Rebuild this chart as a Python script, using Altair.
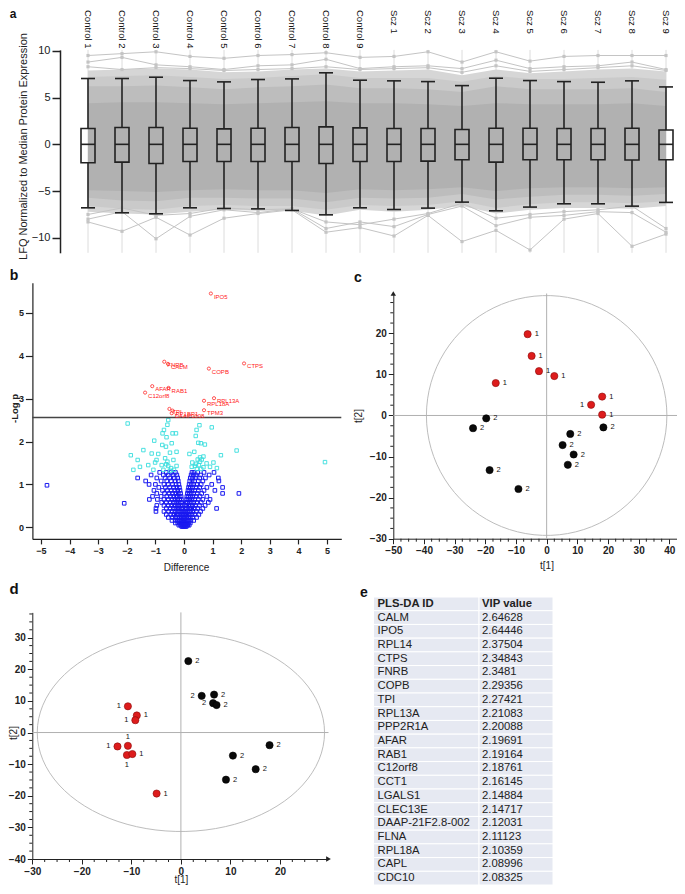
import altair as alt
import pandas as pd

FONT = "Liberation Sans"
OX, OY = 8, 8
W, H = 669, 878


def PX(v):
    return v - OX


def PY(v):
    return v - OY


INK = "#222222"

# ---------------- panel a data ----------------
samples = ["Control 1", "Control 2", "Control 3", "Control 4", "Control 5", "Control 6",
           "Control 7", "Control 8", "Control 9", "Scz 1", "Scz 2", "Scz 3", "Scz 4",
           "Scz 5", "Scz 6", "Scz 7", "Scz 8", "Scz 9"]
a_q1 = [-1.97, -1.9, -2.05, -1.83, -1.83, -1.83, -1.83, -2.05, -1.83, -1.83, -1.8, -1.65,
        -1.9, -1.65, -1.65, -1.65, -1.68, -1.65]
a_q3 = [1.69, 1.8, 1.8, 1.72, 1.65, 1.72, 1.8, 1.87, 1.76, 1.69, 1.69, 1.58, 1.72, 1.72,
        1.69, 1.69, 1.72, 1.54]
a_med = [0.0] * 18
a_lo = [-6.79, -7.32, -7.43, -6.79, -6.86, -6.9, -7.07, -7.54, -6.79, -6.97, -6.82, -6.18,
        -7.11, -6.71, -6.36, -6.36, -6.61, -6.21]
a_hi = [7.04, 7.04, 7.18, 6.82, 6.68, 6.93, 7.0, 7.65, 6.86, 6.79, 6.71, 6.28, 7.07, 6.82,
        6.71, 6.64, 6.79, 6.14]
# envelopes of the grey protein-profile cloud
cloud_outer_hi = [7.9, 8.0, 8.1, 8.0, 7.7, 7.8, 8.0, 8.1, 7.8, 7.9, 8.0, 7.4, 8.0, 7.6, 7.8, 8.0, 8.1, 7.8]
cloud_outer_lo = [-7.2, -7.4, -7.5, -7.2, -7.0, -7.1, -7.1, -7.6, -7.0, -7.2, -7.0, -6.6, -7.4, -7.0, -6.8, -6.8, -6.9, -6.6]
cloud_mid2_hi = [7.2, 7.3, 7.4, 7.2, 7.0, 7.1, 7.3, 7.5, 7.1, 7.1, 7.1, 6.7, 7.3, 7.0, 7.0, 7.1, 7.2, 6.9]
cloud_mid2_lo = [-6.6, -6.9, -7.0, -6.6, -6.5, -6.6, -6.6, -7.0, -6.5, -6.6, -6.5, -6.1, -6.8, -6.4, -6.2, -6.2, -6.3, -6.1]
cloud_mid_hi = [6.2, 6.2, 6.3, 6.1, 5.9, 6.1, 6.2, 6.4, 6.0, 6.0, 5.9, 5.6, 6.2, 5.9, 5.9, 5.9, 6.0, 5.6]
cloud_mid_lo = [-5.7, -6.0, -6.1, -5.7, -5.7, -5.8, -5.8, -6.2, -5.7, -5.8, -5.7, -5.3, -5.9, -5.6, -5.4, -5.4, -5.5, -5.3]
cloud_dense_hi = [4.4, 4.5, 4.5, 4.4, 4.3, 4.4, 4.5, 4.6, 4.4, 4.4, 4.3, 4.1, 4.4, 4.3, 4.3, 4.3, 4.4, 4.1]
cloud_dense_lo = [-4.9, -5.0, -5.1, -4.9, -4.8, -4.9, -4.9, -5.2, -4.8, -4.9, -4.8, -4.6, -5.0, -4.7, -4.6, -4.6, -4.7, -4.6]
# individual outlying protein profiles
prof_u1 = [9.5, 9.7, 9.9, 9.4, 9.2, 9.5, 9.6, 9.8, 9.3, 9.4, 9.9, 8.8, 9.9, 8.9, 9.4, 9.5, 9.5, 9.5]
prof_u2 = [8.8, 9.3, 8.5, 8.3, 8.0, 8.4, 8.5, 9.1, 8.1, 8.3, 8.4, 8.1, 9.0, 8.1, 8.3, 8.4, 8.8, 8.0]
prof_u3 = [8.3, 8.0, 8.2, 8.1, 7.9, 8.0, 8.1, 8.3, 8.0, 8.1, 8.2, 7.7, 8.4, 7.8, 8.0, 8.2, 8.4, 7.9]
prof_l1 = [-8.3, -9.3, -7.8, -9.7, -7.9, -7.4, -7.0, -9.4, -8.9, -9.8, -7.6, -10.4, -9.2, -11.3, -8.0, -7.4, -10.9, -9.6]
prof_l2 = [-8.0, -7.2, -10.1, -7.7, -7.0, -7.3, -6.9, -9.0, -8.3, -8.8, -7.5, -6.6, -8.7, -7.8, -7.6, -7.2, -7.3, -9.4]
prof_l3 = [-7.5, -6.8, -7.6, -7.4, -6.8, -7.0, -6.9, -8.3, -8.6, -8.0, -7.4, -6.3, -7.9, -7.5, -7.2, -7.0, -6.6, -9.0]

# ---------------- panel b data ----------------
b_red_x = [0.94, -0.69, -0.56, 0.87, 2.10, -1.11, -0.54, -1.36, 1.05, 0.70, 0.70, -0.51, -0.40, -0.43]
b_red_y = [5.45, 3.86, 3.81, 3.70, 3.82, 3.29, 3.25, 3.14, 3.01, 2.95, 2.73, 2.76, 2.72, 2.66]
b_red_lab = ["IPO5", "FNRB", "CALM", "COPB", "CTPS", "AFAR", "RAB1", "C12orf8", "RPL13A",
             "RPL18A", "TPM3", "TPI", "PP1BP1", "DAAP0008"]
b_cyan = [(-1.97, 2.42), (-0.58, 2.39), (-0.55, 2.5), (0.97, 2.33), (0.54, 2.38), (-0.70, 2.27),
          (-0.75, 2.19), (-0.40, 2.19), (-0.28, 2.19), (-0.61, 2.10), (0.44, 2.27), (0.41, 2.13),
          (-1.04, 2.02), (0.50, 1.97), (0.59, 1.96), (0.73, 1.93), (-1.42, 1.80), (-0.76, 1.92),
          (-0.43, 1.96), (-0.63, 1.88), (-1.13, 1.72), (-0.90, 1.71), (-0.49, 1.74), (-0.26, 1.76),
          (-1.86, 1.68), (1.84, 1.79), (1.29, 1.68), (0.19, 1.71), (0.36, 1.76), (0.56, 1.63),
          (0.68, 1.65), (-1.62, 1.57), (-0.96, 1.57), (-0.66, 1.61), (-0.58, 1.53), (-0.37, 1.57),
          (-1.25, 1.45), (-1.01, 1.51), (-0.78, 1.45), (-0.55, 1.43), (-0.26, 1.43), (0.29, 1.51),
          (0.42, 1.48), (0.56, 1.53), (0.79, 1.49), (1.03, 1.51), (-1.54, 1.41), (-1.77, 1.34),
          (-1.07, 1.34), (-0.72, 1.34), (-0.49, 1.32), (-0.35, 1.34), (0.27, 1.41), (0.38, 1.43),
          (0.68, 1.40), (0.91, 1.41), (4.93, 1.52), (0.48, 1.58), (0.62, 1.58), (0.52, 1.45),
          (-0.62, 1.47), (-0.45, 1.38), (0.45, 1.36), (0.60, 1.36), (1.15, 1.38)]
b_blue_rows = [
    (1.28, [-0.85, -0.62, -0.45, -0.30, 0.28, 0.35, 0.48, 0.70, 1.05]),
    (1.22, [-1.15, -0.72, -0.55, -0.38, -0.25, 0.25, 0.33, 0.42, 0.58, 0.88]),
    (1.15, [-1.62, -0.95, -0.66, -0.50, -0.34, -0.22, 0.22, 0.30, 0.40, 0.55, 0.75, 1.20]),
    (1.08, [-1.34, -0.80, -0.60, -0.45, -0.30, -0.20, 0.20, 0.28, 0.37, 0.50, 0.66, 1.22]),
    (1.00, [-1.22, -1.0, -0.70, -0.55, -0.40, -0.28, -0.18, 0.18, 0.25, 0.34, 0.45, 0.60, 0.97]),
    (0.98, [-4.79]),
    (0.93, [-0.88, -0.65, -0.50, -0.36, -0.25, -0.16, 0.16, 0.22, 0.30, 0.42, 0.55, 0.80, 1.35]),
    (0.86, [-1.05, -0.75, -0.58, -0.45, -0.32, -0.22, -0.14, 0.14, 0.20, 0.28, 0.38, 0.50, 0.70, 1.08]),
    (0.79, [-0.95, -0.68, -0.52, -0.40, -0.29, -0.20, -0.12, 0.12, 0.18, 0.25, 0.34, 0.46, 0.62, 1.35, 1.92]),
    (0.72, [-1.1, -0.80, -0.60, -0.47, -0.36, -0.26, -0.17, -0.10, 0.10, 0.16, 0.23, 0.31, 0.42, 0.56, 0.80]),
    (0.65, [-1.21, -0.93, -0.70, -0.55, -0.42, -0.32, -0.23, -0.15, -0.09, 0.09, 0.14, 0.20, 0.28, 0.38, 0.50, 0.66, 0.91]),
    (0.58, [-0.78, -0.62, -0.48, -0.37, -0.28, -0.20, -0.13, -0.08, 0.08, 0.12, 0.18, 0.25, 0.34, 0.45, 0.60, 0.85]),
    (0.56, [-2.09]),
    (0.51, [-0.95, -0.70, -0.55, -0.43, -0.33, -0.24, -0.17, -0.11, -0.06, 0.06, 0.10, 0.16, 0.22, 0.30, 0.40, 0.54, 0.74]),
    (0.44, [-0.98, -0.62, -0.48, -0.37, -0.28, -0.20, -0.14, -0.09, -0.05, 0.05, 0.09, 0.14, 0.20, 0.27, 0.36, 0.48, 0.66, 1.14]),
    (0.37, [-0.98, -0.70, -0.54, -0.42, -0.32, -0.24, -0.17, -0.11, -0.07, -0.03, 0.03, 0.07, 0.12, 0.18, 0.24, 0.32, 0.43, 0.58]),
    (0.30, [-0.62, -0.46, -0.36, -0.27, -0.20, -0.14, -0.09, -0.05, -0.02, 0.02, 0.06, 0.10, 0.15, 0.21, 0.28, 0.38, 0.52]),
    (0.23, [-0.55, -0.40, -0.30, -0.22, -0.16, -0.11, -0.07, -0.03, 0.0, 0.03, 0.07, 0.11, 0.16, 0.22, 0.31, 0.44]),
    (0.16, [-0.42, -0.31, -0.23, -0.16, -0.11, -0.07, -0.04, -0.01, 0.01, 0.04, 0.08, 0.12, 0.17, 0.24, 0.34]),
    (0.10, [-0.30, -0.22, -0.15, -0.10, -0.06, -0.03, 0.0, 0.03, 0.06, 0.10, 0.15, 0.22]),
    (0.05, [-0.18, -0.12, -0.08, -0.04, -0.01, 0.02, 0.05, 0.09, 0.13, 0.18]),
    (0.02, [-0.08, -0.04, 0.0, 0.04, 0.08]),
]
b_cut = 2.56

# ---------------- panel c data ----------------
c_red_x = [-6.2, -4.9, -2.5, 2.5, -16.6, 18.1, 14.5, 18.1]
c_red_y = [19.8, 14.5, 10.8, 9.6, 7.9, 4.6, 2.6, 0.2]
c_red_side = ["r", "r", "r", "r", "r", "r", "l", "r"]
c_blk_x = [-19.7, -24.0, 18.5, 7.7, 5.2, 8.8, 6.9, -18.6, -9.2]
c_blk_y = [-0.7, -3.1, -2.9, -4.5, -7.2, -9.5, -12.0, -13.3, -17.9]
c_blk_side = ["r"] * 9
c_ell = (39.2, 29.2)

# ---------------- panel d data ----------------
d_red_x = [-10.7, -8.9, -9.2, -12.8, -10.7, -10.9, -9.8, -4.9]
d_red_y = [8.3, 5.4, 3.9, -4.4, -4.2, -7.1, -6.8, -19.3]
d_red_side = ["l", "r", "l", "l", "a", "b", "r", "r"]
d_blk_x = [1.5, 4.2, 6.7, 6.5, 7.2, 17.9, 10.5, 15.1, 9.1]
d_blk_y = [22.6, 11.6, 12.0, 9.3, 8.7, -4.0, -7.3, -11.6, -14.9]
d_blk_side = ["r", "l", "r", "l", "r", "r", "r", "r", "r"]
d_ell = (29.0, 31.3)

# ---------------- panel e data ----------------
e_header = ["PLS-DA ID", "VIP value"]
e_ids = ["CALM", "IPO5", "RPL14", "CTPS", "FNRB", "COPB", "TPI", "RPL13A", "PPP2R1A", "AFAR",
         "RAB1", "C12orf8", "CCT1", "LGALS1", "CLEC13E", "DAAP-21F2.8-002", "FLNA", "RPL18A",
         "CAPL", "CDC10"]
e_vips = ["2.64628", "2.64446", "2.37504", "2.34843", "2.3481", "2.29356", "2.27421", "2.21083",
          "2.20088", "2.19691", "2.19164", "2.18761", "2.16145", "2.14884", "2.14717", "2.12031",
          "2.11123", "2.10359", "2.08996", "2.08325"]

ONE = pd.DataFrame({"z": [0]})

# ======================= PANEL A =======================
AX = alt.Scale(domain=[0, 17], range=[PX(83), PX(671)], nice=False, zero=False)
AY = alt.Scale(domain=[-11.6, 10.1], range=[PY(252.8), PY(49.9)], nice=False, zero=False)
AYAX = alt.Axis(orient="left", offset=-PX(60), values=[-10, -5, 0, 5, 10], tickSize=8,
                labelPadding=2, labelFontSize=11, labelColor=INK, domainColor=INK,
                domainWidth=1.5, tickColor=INK, tickWidth=1.5,
                title="LFQ Normalized to Median Protein Expression", titleFontSize=11,
                titleFontWeight="normal", titleColor=INK, titleX=-(60 - 23), titleY=PY(146),
                titleBaseline="middle", labelFlush=False, labelOverlap=False, grid=False)

a_df = pd.DataFrame({"i": list(range(18)), "sample": samples, "q1": a_q1, "q3": a_q3,
                     "med": a_med, "lo": a_lo, "hi": a_hi,
                     "o_lo": cloud_outer_lo, "o_hi": cloud_outer_hi,
                     "m2_lo": cloud_mid2_lo, "m2_hi": cloud_mid2_hi,
                     "m_lo": cloud_mid_lo, "m_hi": cloud_mid_hi,
                     "d_lo": cloud_dense_lo, "d_hi": cloud_dense_hi})
prof_rows = []
for name, prof in [("u1", prof_u1), ("u2", prof_u2), ("u3", prof_u3),
                   ("l1", prof_l1), ("l2", prof_l2), ("l3", prof_l3)]:
    for i, v in enumerate(prof):
        prof_rows.append({"i": i, "v": v, "prof": name})
prof_df = pd.DataFrame(prof_rows)


def ax_x(field):
    return alt.X(field, type="quantitative", scale=AX, axis=None)


def ax_y(field):
    return alt.Y(field, type="quantitative", scale=AY, axis=AYAX)


a_base = alt.Chart(a_df)
a_vr = a_base.mark_rule(color="#dcdcdc", strokeWidth=1).encode(
    x=ax_x("i"), y=alt.YDatum(-11.6, scale=AY, axis=AYAX), y2=alt.Y2Datum(10.1))
a_band_o = a_base.mark_area(color="#d6d6d6").encode(x=ax_x("i"), y=ax_y("o_lo"), y2="o_hi")
a_band_m2 = a_base.mark_area(color="#cacaca").encode(x=ax_x("i"), y=ax_y("m2_lo"), y2="m2_hi")
a_band_m = a_base.mark_area(color="#bdbdbd").encode(x=ax_x("i"), y=ax_y("m_lo"), y2="m_hi")
a_band_d = a_base.mark_area(color="#b1b1b1").encode(x=ax_x("i"), y=ax_y("d_lo"), y2="d_hi")
a_prof = alt.Chart(prof_df).mark_line(color="#c4c4c4", strokeWidth=1).encode(
    x=ax_x("i"), y=ax_y("v"), detail="prof:N")
a_prof_pt = alt.Chart(prof_df).mark_point(shape="square", filled=True, size=10,
                                          color="#c4c4c4", opacity=1).encode(
    x=ax_x("i"), y=ax_y("v"))
a_wh1 = a_base.mark_rule(color=INK, strokeWidth=1.6).encode(x=ax_x("i"), y=ax_y("q3"), y2="hi")
a_wh2 = a_base.mark_rule(color=INK, strokeWidth=1.6).encode(x=ax_x("i"), y=ax_y("lo"), y2="q1")
a_cap1 = a_base.mark_tick(orient="horizontal", size=14, thickness=1.6, color=INK, opacity=1).encode(
    x=ax_x("i"), y=ax_y("hi"))
a_cap2 = a_base.mark_tick(orient="horizontal", size=14, thickness=1.6, color=INK, opacity=1).encode(
    x=ax_x("i"), y=ax_y("lo"))
a_box = a_base.mark_bar(size=14, fillOpacity=0, stroke=INK, strokeWidth=1.6).encode(
    x=ax_x("i"), y=ax_y("q1"), y2="q3")
a_medl = a_base.mark_tick(orient="horizontal", size=14, thickness=1.6, color=INK, opacity=1).encode(
    x=ax_x("i"), y=ax_y("med"))
a_lab = a_base.mark_text(angle=90, align="left", baseline="middle", fontSize=9.5,
                         color="#111111", font=FONT).encode(
    x=ax_x("i"), y=alt.value(PY(10)), text="sample:N")
panel_a = alt.layer(a_vr, a_band_o, a_band_m2, a_band_m, a_band_d, a_prof, a_prof_pt, a_wh1,
                    a_wh2, a_cap1, a_cap2, a_box, a_medl, a_lab)

# ======================= PANEL B =======================
BX = alt.Scale(domain=[-5.3, 5.5], range=[PX(32.4), PX(341.3)], nice=False, zero=False)
BY = alt.Scale(domain=[-0.27, 5.7], range=[PY(538.9), PY(282.8)], nice=False, zero=False)
BYAX = alt.Axis(orient="left", offset=-PX(32.4), values=[0, 1, 2, 3, 4, 5], tickSize=7,
                labelPadding=2, labelFontSize=9, labelFontWeight="bold", labelColor=INK,
                domainColor=INK, tickColor=INK, domainWidth=1.2, tickWidth=1.2,
                title="-Log p", titleFontSize=9.5, titleFontWeight="bold", titleColor=INK,
                titleX=-(32.4 - 14), titleY=PY(408), titleBaseline="middle",
                labelFlush=False, labelOverlap=False, grid=False)
BXAX = alt.Axis(orient="bottom", offset=PY(538.9) - H, values=list(range(-5, 6)), tickSize=5,
                labelPadding=3, labelFontSize=9, labelFontWeight="bold", labelColor=INK,
                domainColor=INK, tickColor=INK, domainWidth=1.2, tickWidth=1.2,
                title="Difference", titleFontSize=10, titleFontWeight="normal", titleColor=INK,
                titleX=PX(186), titleY=567 - 538.9, titleBaseline="middle",
                labelFlush=False, labelOverlap=False, grid=False)


def bx(f):
    return alt.X(f, type="quantitative", scale=BX, axis=BXAX)


def by(f):
    return alt.Y(f, type="quantitative", scale=BY, axis=BYAX)


blue_pts = [(x, y) for y, xs in b_blue_rows for x in xs]
blue_df = pd.DataFrame(blue_pts, columns=["x", "y"])
cyan_df = pd.DataFrame(b_cyan, columns=["x", "y"])
red_df = pd.DataFrame({"x": b_red_x, "y": b_red_y, "lab": b_red_lab})

b_blue = alt.Chart(blue_df).mark_point(shape="square", filled=False, size=13, strokeWidth=1,
                                       color="#1a1af0", opacity=1).encode(x=bx("x"), y=by("y"))
b_cyan = alt.Chart(cyan_df).mark_point(shape="square", filled=False, size=12, strokeWidth=0.9,
                                       color="#38dede", opacity=1).encode(x=bx("x"), y=by("y"))
b_cutline = alt.Chart(ONE).mark_rule(color="#444444", strokeWidth=1.5).encode(
    x=alt.XDatum(-5.3, scale=BX, axis=BXAX), x2=alt.X2Datum(5.5),
    y=alt.YDatum(b_cut, scale=BY, axis=BYAX))
b_red = alt.Chart(red_df).mark_point(shape="circle", filled=False, size=10, strokeWidth=0.8,
                                     color="#ff2a2a", opacity=1).encode(x=bx("x"), y=by("y"))
b_redlab = alt.Chart(red_df).mark_text(align="left", baseline="middle", dx=3, dy=3, fontSize=6,
                                       color="#ff2020", font=FONT).encode(
    x=bx("x"), y=by("y"), text="lab:N")
panel_b = alt.layer(b_blue, b_cyan, b_cutline, b_red, b_redlab)


# ======================= score plot helper =======================
def score_panel(xs, ys, xax, yax, xdom, ydom, ell, red_df, blk_df, minor_x, minor_y,
                ax_px_x, ax_px_y, arrow):
    def sx(f):
        return alt.X(f, type="quantitative", scale=xs, axis=xax)

    def sy(f):
        return alt.Y(f, type="quantitative", scale=ys, axis=yax)

    a, b = ell
    ellipse = alt.Chart(alt.sequence(0, 364, 4, as_="t")).transform_calculate(
        ex=f"{a}*cos(datum.t*PI/180)", ey=f"{b}*sin(datum.t*PI/180)"
    ).mark_line(color="#bdbdbd", strokeWidth=1).encode(x=sx("ex"), y=sy("ey"), order="t:Q")
    vline = alt.Chart(ONE).mark_rule(color="#b0b0b0", strokeWidth=1).encode(
        x=alt.XDatum(0, scale=xs, axis=xax), y=alt.YDatum(ydom[0], scale=ys, axis=yax),
        y2=alt.Y2Datum(ydom[1]))
    hline = alt.Chart(ONE).mark_rule(color="#b0b0b0", strokeWidth=1).encode(
        x=alt.XDatum(xdom[0], scale=xs, axis=xax), x2=alt.X2Datum(xdom[1]),
        y=alt.YDatum(0, scale=ys, axis=yax))
    mx = alt.Chart(pd.DataFrame({"v": minor_x})).mark_rule(color=INK, strokeWidth=1).encode(
        x=sx("v"), y=alt.value(ax_px_y), y2=alt.value(ax_px_y + 3))
    my = alt.Chart(pd.DataFrame({"v": minor_y})).mark_rule(color=INK, strokeWidth=1).encode(
        y=sy("v"), x=alt.value(ax_px_x - 3), x2=alt.value(ax_px_x))
    shape, ax_, ay_ = arrow
    arr = alt.Chart(ONE).mark_point(shape=shape, filled=True, size=30, color=INK, opacity=1).encode(
        x=alt.XDatum(ax_, scale=xs, axis=xax), y=alt.YDatum(ay_, scale=ys, axis=yax))
    layers = [ellipse, vline, hline, mx, my, arr]
    for df, col, stroke, lab in [(red_df, "#dd1c1c", "#8a0a0a", "1"), (blk_df, "#0a0a0a", "#000000", "2")]:
        df = df.assign(lab=lab)
        layers.append(alt.Chart(df).mark_circle(size=52, color=col, stroke=stroke, strokeWidth=0.6,
                                                opacity=1).encode(x=sx("x"), y=sy("y")))
        for side, kw in [("r", dict(dx=7, align="left")), ("l", dict(dx=-7, align="right")),
                         ("a", dict(dy=-9, align="center")), ("b", dict(dy=10, align="center"))]:
            sub = df[df["side"] == side]
            if len(sub):
                layers.append(alt.Chart(sub).mark_text(baseline="middle", fontSize=7.5,
                                                       color="#111111", font=FONT, **kw).encode(
                    x=sx("x"), y=sy("y"), text="lab:N"))
    return alt.layer(*layers)


def mk_axis(orient, offset, values, title, tx, ty):
    return alt.Axis(orient=orient, offset=offset, values=values, tickSize=5, labelPadding=2,
                    labelFontSize=10, labelFontWeight="bold", labelColor=INK, domainColor=INK,
                    tickColor=INK, domainWidth=1, tickWidth=1, title=title, titleFontSize=10,
                    titleFontWeight="normal", titleColor=INK, titleX=tx, titleY=ty,
                    titleBaseline="middle", labelFlush=False, labelOverlap=False, grid=False)


# ======================= PANEL C =======================
CXD = [-50, 42.5]
CYD = [-30, 29.7]
CX = alt.Scale(domain=CXD, range=[PX(393.3), PX(677)], nice=False, zero=False)
CY = alt.Scale(domain=CYD, range=[PY(538.7), PY(293.5)], nice=False, zero=False)
CXAX = mk_axis("bottom", PY(538.7) - H, list(range(-50, 41, 10)), "t[1]", PX(546.5), 565 - 538.7)
CYAX = mk_axis("left", -PX(393.3), list(range(-30, 21, 10)), "t[2]", 358 - 393.3, PY(415.5))
c_red_df = pd.DataFrame({"x": c_red_x, "y": c_red_y, "side": c_red_side})
c_blk_df = pd.DataFrame({"x": c_blk_x, "y": c_blk_y, "side": c_blk_side})
c_minor_x = [v / 2 for v in range(-95, 85, 5) if v % 20 != 0]
c_minor_y = [v / 2 for v in range(-55, 58, 5) if v % 20 != 0]
panel_c = score_panel(CX, CY, CXAX, CYAX, CXD, CYD, c_ell, c_red_df, c_blk_df, c_minor_x,
                      c_minor_y, PX(393.3), PY(538.7), ("triangle-up", -50, 29.7))

# ======================= PANEL D =======================
DXD = [-30, 29.8]
DYD = [-40, 38]
DX = alt.Scale(domain=DXD, range=[PX(32.3), PX(328.5)], nice=False, zero=False)
DY = alt.Scale(domain=DYD, range=[PY(859), PY(612.4)], nice=False, zero=False)
DXAX = mk_axis("bottom", PY(859) - H, list(range(-30, 21, 10)), "t[1]", PX(180.9), 879 - 859)
DYAX = mk_axis("left", -PX(32.3), list(range(-40, 31, 10)), "t[2]", 13 - 32.3, PY(732.5))
d_red_df = pd.DataFrame({"x": d_red_x, "y": d_red_y, "side": d_red_side})
d_blk_df = pd.DataFrame({"x": d_blk_x, "y": d_blk_y, "side": d_blk_side})
d_minor_x = [v / 2 for v in range(-55, 58, 5) if v % 20 != 0]
d_minor_y = [v / 2 for v in range(-75, 76, 5) if v % 20 != 0]
panel_d = score_panel(DX, DY, DXAX, DYAX, DXD, DYD, d_ell, d_red_df, d_blk_df, d_minor_x,
                      d_minor_y, PX(32.3), PY(859), ("triangle-right", 29.8, -40))

# ======================= PANEL E =======================
EY = alt.Scale(domain=[0, 21], range=[PY(597), PY(885)], nice=False, zero=False)
e_df = pd.DataFrame({"k": list(range(21)), "id": [e_header[0]] + e_ids,
                     "vip": [e_header[1]] + e_vips})
e_base = alt.Chart(e_df).transform_calculate(k1="datum.k + 1", kc="datum.k + 0.5")
e_cell1 = e_base.mark_rect(color="#e6e9f2", stroke="white", strokeWidth=1).encode(
    x=alt.value(PX(373.5)), x2=alt.value(PX(479)),
    y=alt.Y("k:Q", scale=EY, axis=None), y2="k1:Q")
e_cell2 = e_base.mark_rect(color="#e6e9f2", stroke="white", strokeWidth=1).encode(
    x=alt.value(PX(479)), x2=alt.value(PX(553)),
    y=alt.Y("k:Q", scale=EY, axis=None), y2="k1:Q")
e_t1 = e_base.transform_filter("datum.k > 0").mark_text(
    align="left", baseline="middle", fontSize=11.3, color="#222222", font=FONT).encode(
    x=alt.value(PX(377.5)), y=alt.Y("kc:Q", scale=EY, axis=None), text="id:N")
e_t2 = e_base.transform_filter("datum.k > 0").mark_text(
    align="left", baseline="middle", fontSize=11.3, color="#222222", font=FONT).encode(
    x=alt.value(PX(482)), y=alt.Y("kc:Q", scale=EY, axis=None), text="vip:N")
e_h1 = e_base.transform_filter("datum.k == 0").mark_text(
    align="left", baseline="middle", fontSize=11.3, fontWeight="bold", color="#222222",
    font=FONT).encode(x=alt.value(PX(377.5)), y=alt.Y("kc:Q", scale=EY, axis=None), text="id:N")
e_h2 = e_base.transform_filter("datum.k == 0").mark_text(
    align="left", baseline="middle", fontSize=11.3, fontWeight="bold", color="#222222",
    font=FONT).encode(x=alt.value(PX(482)), y=alt.Y("kc:Q", scale=EY, axis=None), text="vip:N")
panel_e = alt.layer(e_cell1, e_cell2, e_t1, e_t2, e_h1, e_h2)


# ======================= panel letters =======================
def letter(txt, x, y, size):
    return alt.Chart(ONE).mark_text(text=txt, fontSize=size, fontWeight="bold", color="#111111",
                                    font=FONT, align="center", baseline="middle").encode(
        x=alt.value(PX(x)), y=alt.value(PY(y)))


letters = [letter("a", 13, 14, 12), letter("b", 14, 276, 14), letter("c", 358, 278, 14),
           letter("d", 14, 589, 15), letter("e", 364, 593, 14)]

chart = alt.layer(panel_a, panel_b, panel_c, panel_d, panel_e, *letters).resolve_scale(
    x="independent", y="independent"
).properties(
    width=W, height=H, padding=0, autosize="none", background="white"
).configure_view(stroke="transparent").configure_axis(
    grid=False, labelFont=FONT, titleFont=FONT
).configure_text(font=FONT)

chart.save("out.html", embed_options={"renderer": "svg", "actions": False})
